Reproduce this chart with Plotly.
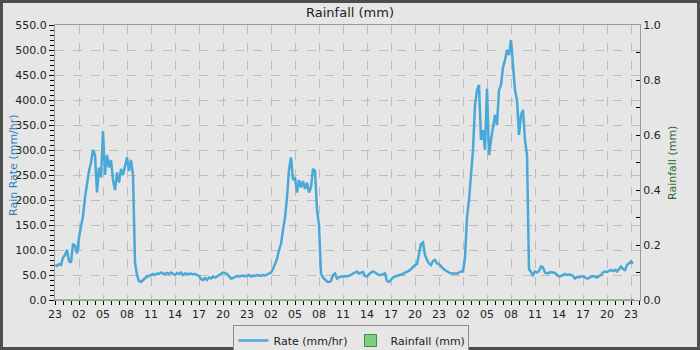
import pandas as pd
import plotly.graph_objects as go

# ---- data (15-minute rain-rate samples starting 23:00, mm/hr) ----
start = "2024-01-01 23:00"
rate_mmhr = [
    70, 68, 72, 70,
    85, 90, 100, 78,
    75, 112, 108, 93,
    125, 148, 168, 205,
    232, 258, 275, 300,
    290, 215, 265, 245,
    338, 250, 290, 265,
    280, 240, 220, 255,
    235, 262, 250, 270,
    285, 258, 280, 250,
    75, 50, 38, 36,
    40, 45, 47, 48,
    50, 52, 50, 53,
    52, 55, 53, 52,
    54, 52, 55, 53,
    50, 54, 52, 55,
    50, 53, 52, 52,
    53, 51, 52, 50,
    48, 42, 40, 44,
    40, 45, 43, 47,
    45, 47, 50, 52,
    55, 54, 52, 48,
    43, 44, 46, 48,
    47, 48, 49, 47,
    48, 50, 47, 49,
    48, 50, 49, 48,
    50, 49, 51, 53,
    55, 62, 72, 82,
    100, 112, 140, 165,
    205, 260, 285, 240,
    245, 215, 240, 225,
    238, 222, 235, 215,
    225, 262, 258, 180,
    150, 53, 45, 40,
    37, 36, 38, 50,
    53, 43, 45, 47,
    47, 48, 47, 48,
    50, 53, 55, 57,
    53, 55, 56, 48,
    47, 52, 55, 57,
    55, 52, 50, 50,
    52, 53, 38, 36,
    40, 45, 47, 48,
    50, 50, 52, 55,
    57, 58, 62, 67,
    70, 72, 90, 112,
    115, 90, 80, 73,
    70, 78, 80, 73,
    72, 67, 63, 60,
    57, 55, 53, 53,
    52, 53, 55, 57,
    57, 85, 165, 200,
    250, 300, 390, 420,
    430, 320, 340, 300,
    423, 290, 320, 345,
    370, 350, 420, 430,
    465, 480, 500, 490,
    520, 470, 420, 400,
    330, 370, 380, 320,
    290, 62, 55, 50,
    57, 55, 58, 67,
    65, 55, 53, 55,
    56, 55, 54, 50,
    47, 48, 50, 52,
    50, 51, 50, 48,
    43, 46, 45, 47,
    47, 45, 43, 44,
    47, 48, 46, 45,
    48, 50, 55, 57,
    56, 58, 60, 58,
    60, 57, 62, 67,
    62, 60, 70, 73,
    77, 73,
]
# hourly rainfall totals (mm) - all zero in this period
rain_mm = [
    0, 0, 0, 0, 0, 0, 0, 0, 0, 0, 0, 0, 0, 0, 0, 0, 0, 0, 0, 0, 0, 0, 0, 0,
    0, 0, 0, 0, 0, 0, 0, 0, 0, 0, 0, 0, 0, 0, 0, 0, 0, 0, 0, 0, 0, 0, 0, 0,
    0, 0, 0, 0, 0, 0, 0, 0, 0, 0, 0, 0, 0, 0, 0, 0, 0, 0, 0, 0, 0, 0, 0, 0,
    0,
]
x_start = "2024-01-01 23:00"
x_end = "2024-01-05 00:07:30"

rate_t = pd.date_range(start, periods=len(rate_mmhr), freq="15min")
rain_t = pd.date_range(start, periods=len(rain_mm), freq="60min")

FONT = "DejaVu Sans"
BG = "#e6e6e6"
BLUE = "#4aa8d8"
GREEN = "#7fcf7f"

fig = go.Figure()
fig.add_trace(go.Scatter(
    x=rate_t, y=rate_mmhr, mode="lines", name="Rate (mm/hr)",
    line=dict(color=BLUE, width=2.5), yaxis="y",
))
fig.add_trace(go.Scatter(
    x=rain_t, y=rain_mm, mode="lines", showlegend=False,
    line=dict(color=GREEN, width=2), yaxis="y2",
))
fig.add_trace(go.Bar(
    x=rain_t, y=rain_mm, name="Rainfall (mm)", yaxis="y2",
    marker=dict(color=GREEN, line=dict(color="#3f8f3f", width=1)),
))

fig.update_layout(
    width=700, height=350,
    margin=dict(l=55, r=60, t=25, b=50, autoexpand=False),
    paper_bgcolor=BG, plot_bgcolor=BG,
    font=dict(family=FONT, size=11, color="#222222"),
    title=dict(text="Rainfall (mm)", x=0.5, xanchor="center",
               y=1 - 12 / 350, yanchor="middle",
               font=dict(family=FONT, size=13, color="#222222")),
    showlegend=True,
    legend=dict(orientation="h", x=(350.5 - 55) / 585, xanchor="center",
                y=(300 - 325) / 275, yanchor="top",
                bgcolor=BG, bordercolor="#8c8c8c", borderwidth=1,
                font=dict(family=FONT, size=11, color="#222222"),
                itemwidth=30, tracegroupgap=0,
                entrywidth=72, entrywidthmode="pixels"),
    xaxis=dict(
        type="date", range=[x_start, x_end], automargin=False,
        tick0=x_start, dtick=3 * 3600000, tickformat="%H",
        ticks="outside", ticklen=4, tickcolor="#000000",
        showline=True, linecolor="#9a9a9a", mirror=True,
        showgrid=True, gridcolor="#bdbdbd", griddash="dash", gridwidth=1,
        minor=dict(dtick=3600000, tick0=x_start, ticks="outside",
                   ticklen=4, tickcolor="#000000", showgrid=False),
        zeroline=False,
    ),
    yaxis=dict(
        range=[0, 550], dtick=50, tickformat=".1f", automargin=False,
        ticks="outside", ticklen=5, tickcolor="#000000",
        showline=True, linecolor="#9a9a9a", mirror=True,
        showgrid=True, gridcolor="#bdbdbd", griddash="dash", gridwidth=1,
        minor=dict(dtick=10, ticks="outside", ticklen=4,
                   tickcolor="#000000", showgrid=False),
        zeroline=False,
    ),
    yaxis2=dict(
        range=[0, 1.0], dtick=0.2, tickformat=".1f", automargin=False,
        overlaying="y", side="right",
        ticks="inside", ticklen=4, tickcolor="#000000",
        showline=True, linecolor="#9a9a9a",
        showgrid=False, zeroline=False,
        minor=dict(dtick=0.1, ticks="inside", ticklen=4,
                   tickcolor="#000000", showgrid=False),
    ),
    bargap=0.2,
    annotations=[
        dict(text="Rain Rate (mm/hr)", textangle=-90,
             xref="paper", yref="paper",
             x=(14 - 55) / 585, y=(300 - 165) / 275,
             xanchor="center", yanchor="middle", showarrow=False,
             font=dict(family=FONT, size=11, color="#2f7fbf")),
        dict(text="Rainfall (mm)", textangle=-90,
             xref="paper", yref="paper",
             x=(672 - 55) / 585, y=(300 - 163) / 275,
             xanchor="center", yanchor="middle", showarrow=False,
             font=dict(family=FONT, size=11, color="#2a6e2a")),
    ],
    shapes=[
        dict(type="rect", xref="paper", yref="paper",
             x0=(1.5 - 55) / 585, x1=(698.5 - 55) / 585,
             y0=(300 - 348.5) / 275, y1=(300 - 1.5) / 275,
             line=dict(color="#4d4d4d", width=3), fillcolor="rgba(0,0,0,0)",
             layer="above"),
    ],
)

fig.write_html("out.html")
